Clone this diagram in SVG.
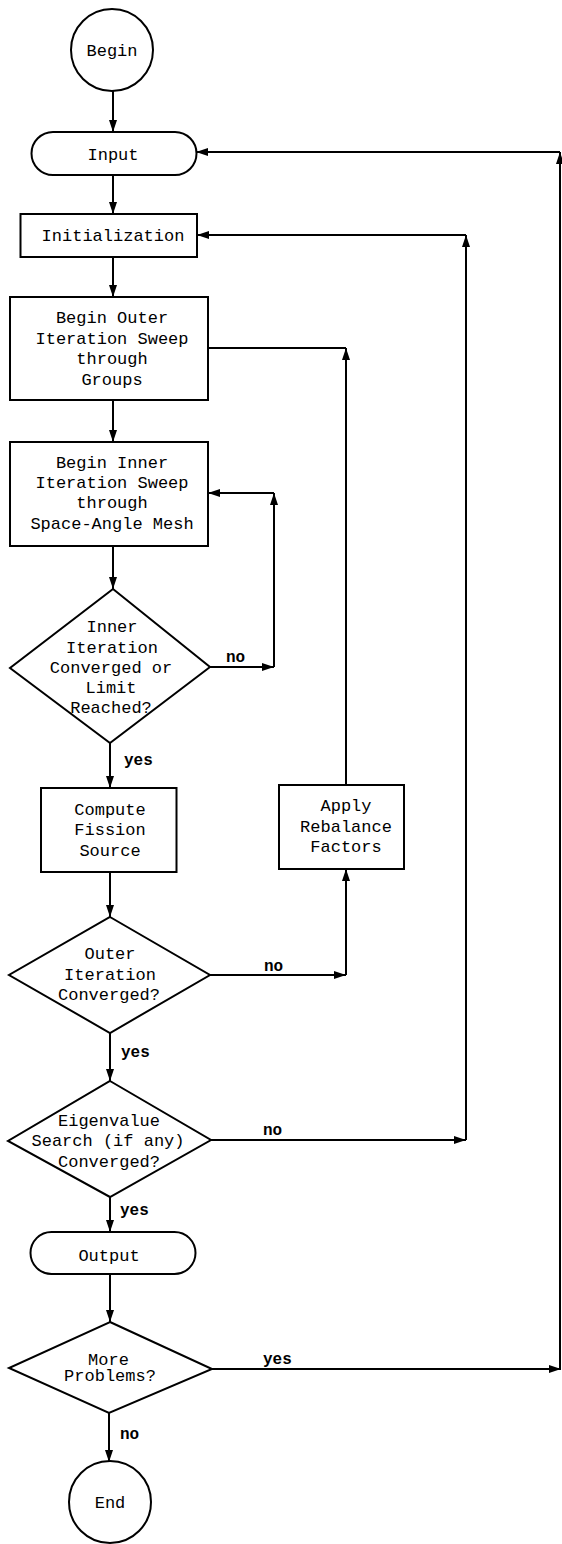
<svg xmlns="http://www.w3.org/2000/svg" width="562" height="1544" viewBox="0 0 562 1544">
<defs>
<marker id="ah" viewBox="0 0 12 8" refX="12" refY="4" markerWidth="12" markerHeight="8" markerUnits="userSpaceOnUse" orient="auto">
<path d="M0,0 L12,4 L0,8 Z" fill="#000"/>
</marker>
<style>
.s{fill:#fff;stroke:#000;stroke-width:2}
.t{font-family:"Liberation Mono","DejaVu Sans Mono",monospace;font-size:17px;fill:#000;text-anchor:middle}
.l{font-family:"Liberation Mono","DejaVu Sans Mono",monospace;font-size:16px;font-weight:bold;fill:#000}
.c{fill:none;stroke:#000;stroke-width:2}
.a{marker-end:url(#ah)}
</style>
</defs>
<rect width="562" height="1544" fill="#fff"/>
<g id="connectors">
<path class="c a" d="M113,91 V132"/>
<path class="c a" d="M113,175 V214"/>
<path class="c a" d="M113,257 V297"/>
<path class="c a" d="M113,400 V442"/>
<path class="c a" d="M113,546 V589"/>
<path class="c a" d="M210,667 H274"/>
<path class="c a" d="M274,667 V493"/>
<path class="c a" d="M274,493 H208"/>
<path class="c a" d="M110,743 V788"/>
<path class="c a" d="M110,872 V917"/>
<path class="c a" d="M210,975 H346"/>
<path class="c a" d="M346,975 V869"/>
<path class="c a" d="M346,785 V348"/>
<path class="c" d="M346,348 H208"/>
<path class="c a" d="M110,1033 V1081"/>
<path class="c a" d="M211,1140 H466"/>
<path class="c a" d="M466,1140 V235"/>
<path class="c a" d="M466,235 H197"/>
<path class="c a" d="M110,1197 V1232"/>
<path class="c a" d="M110,1274 V1322"/>
<path class="c a" d="M212,1369 H561"/>
<path class="c a" d="M560,1369 V152"/>
<path class="c a" d="M560,152 H196"/>
<path class="c a" d="M109,1413 V1462"/>
<text class="l" x="226" y="662">no</text>
<text class="l" x="124" y="765">yes</text>
<text class="l" x="264" y="971">no</text>
<text class="l" x="121" y="1057">yes</text>
<text class="l" x="263" y="1135">no</text>
<text class="l" x="120" y="1215">yes</text>
<text class="l" x="263" y="1364">yes</text>
<text class="l" x="120" y="1439">no</text>
</g>
<g id="begin">
<circle class="s" cx="112" cy="50" r="41"/>
<text class="t" x="112" y="55.5">Begin</text>
</g>
<g id="input">
<rect class="s" x="31.5" y="132" width="165" height="43" rx="21.5"/>
<text class="t" x="113" y="159.5">Input</text>
</g>
<g id="init">
<rect class="s" x="20.5" y="214" width="176.5" height="43"/>
<text class="t" x="113" y="241">Initialization</text>
</g>
<g id="outer">
<rect class="s" x="10" y="297" width="198" height="103"/>
<text class="t" x="112" y="322.5">Begin Outer</text>
<text class="t" x="112" y="343.5">Iteration Sweep</text>
<text class="t" x="112" y="364">through</text>
<text class="t" x="112" y="384.5">Groups</text>
</g>
<g id="inner">
<rect class="s" x="10" y="442" width="198" height="104"/>
<text class="t" x="112" y="467.5">Begin Inner</text>
<text class="t" x="112" y="487.5">Iteration Sweep</text>
<text class="t" x="112" y="508">through</text>
<text class="t" x="112" y="528.5">Space-Angle Mesh</text>
</g>
<g id="d1">
<polygon class="s" points="113,589 210,667 110,743 10,668"/>
<text class="t" x="112" y="632">Inner</text>
<text class="t" x="112" y="652.5">Iteration</text>
<text class="t" x="111" y="673">Converged or</text>
<text class="t" x="111" y="693">Limit</text>
<text class="t" x="111" y="712.5">Reached?</text>
</g>
<g id="fission">
<rect class="s" x="41" y="788" width="135.5" height="84"/>
<text class="t" x="110" y="814.5">Compute</text>
<text class="t" x="110" y="835">Fission</text>
<text class="t" x="110" y="855.5">Source</text>
</g>
<g id="rebalance">
<rect class="s" x="279" y="785" width="125" height="84"/>
<text class="t" x="346" y="811">Apply</text>
<text class="t" x="346" y="831.5">Rebalance</text>
<text class="t" x="346" y="851.5">Factors</text>
</g>
<g id="d2">
<polygon class="s" points="110,917 210,975 110,1033 9,975"/>
<text class="t" x="110" y="958.5">Outer</text>
<text class="t" x="110" y="979.5">Iteration</text>
<text class="t" x="109" y="1000">Converged?</text>
</g>
<g id="d3">
<polygon class="s" points="110,1081 211,1140 110,1197 8,1141"/>
<text class="t" x="109" y="1125.5">Eigenvalue</text>
<text class="t" x="108" y="1146">Search (if any)</text>
<text class="t" x="109" y="1167">Converged?</text>
</g>
<g id="output">
<rect class="s" x="30.5" y="1232" width="165" height="42" rx="21"/>
<text class="t" x="109" y="1260.5">Output</text>
</g>
<g id="d4">
<polygon class="s" points="110,1322 212,1369 109,1413 9,1368"/>
<text class="t" x="108.5" y="1364.5">More</text>
<text class="t" x="110" y="1381">Problems?</text>
</g>
<g id="end">
<circle class="s" cx="110" cy="1502" r="41"/>
<text class="t" x="110" y="1508">End</text>
</g>
</svg>
